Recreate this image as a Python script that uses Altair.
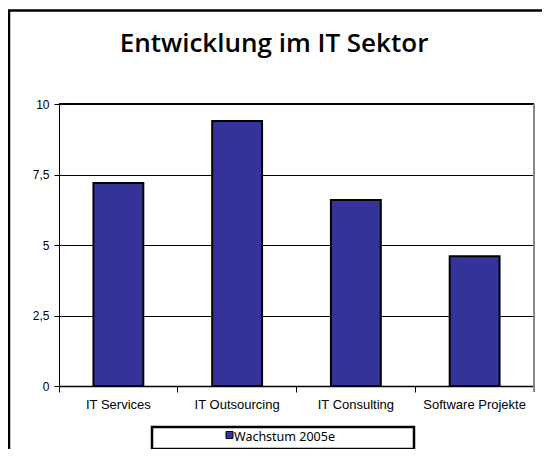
import altair as alt
import pandas as pd

categories = ["IT Services", "IT Outsourcing", "IT Consulting", "Software Projekte"]
values = [7.2, 9.4, 6.6, 4.6]
series_name = ["Wachstum 2005e"]
title_text = ["Entwicklung im IT Sektor"]
y_ticks = [0, 2.5, 5, 7.5, 10]

BAR = "#333399"
W, H = 475, 282

df = pd.DataFrame({"Kategorie": categories, "Wert": values})
one = pd.DataFrame({"k": [0]})

x = alt.X("Kategorie:N", sort=categories,
          scale=alt.Scale(paddingInner=0, paddingOuter=0),
          axis=alt.Axis(title=None, labelAngle=0, bandPosition=0,
                        labelFont="Liberation Sans", labelFontSize=13, labelColor="black",
                        labelPadding=6, tickSize=6, tickColor="black", tickWidth=1,
                        domainColor="black", domainWidth=1.5, labelOverlap=False,
                        labelFlush=False, labelBound=False))
y = alt.Y("Wert:Q", scale=alt.Scale(domain=[0, 10], nice=False),
          axis=alt.Axis(title=None, values=y_ticks,
                        labelExpr="replace(format(datum.value, '~g'), '.', ',')",
                        labelFont="Liberation Sans", labelFontSize=12, labelColor="black",
                        tickSize=5, tickColor="black", labelPadding=5,
                        domainColor="black", domainWidth=1,
                        grid=True, gridColor="black", gridWidth=1))

bars = alt.Chart(df).mark_bar(
    width={"band": 0.42}, fill=BAR, stroke="black", strokeWidth=2
).encode(x=x, y=y)

frame = alt.Chart(one).mark_rect(fill=None, stroke="black", strokeWidth=2.5, clip=False).encode(
    x=alt.value(-50), x2=alt.value(600), y=alt.value(-93.5), y2=alt.value(600))

top_border = alt.Chart(one).mark_rule(color="black", strokeWidth=2).encode(
    x=alt.value(0), x2=alt.value(W), y=alt.value(0))
right_border = alt.Chart(one).mark_rule(color="#888888", strokeWidth=2).encode(
    x=alt.value(W), y=alt.value(0), y2=alt.value(H + 6))

title = alt.Chart(pd.DataFrame({"t": title_text})).mark_text(
    font="Open Sans", fontWeight=600, fontSize=26, color="black",
    align="center", baseline="alphabetic"
).encode(text="t:N", x=alt.value(215), y=alt.value(-52))

leg_box = alt.Chart(one).mark_rect(fill="white", stroke="black", strokeWidth=2.5).encode(
    x=alt.value(93), x2=alt.value(355), y=alt.value(323), y2=alt.value(345))
leg_sym = alt.Chart(pd.DataFrame({"s": series_name})).mark_square(
    size=49, fill=BAR, stroke="black", strokeWidth=1, opacity=1
).encode(x=alt.value(170.5), y=alt.value(331))
leg_txt = alt.Chart(pd.DataFrame({"s": series_name})).mark_text(
    font="Noto Sans", fontSize=12.5, color="black", align="left", baseline="alphabetic"
).encode(text="s:N", x=alt.value(175), y=alt.value(337))

chart = alt.layer(frame, bars, top_border, right_border, title, leg_box, leg_sym, leg_txt).properties(
    width=W, height=H,
    autosize=alt.AutoSizeParams(type="none"),
    padding={"left": 51, "top": 96, "right": 8, "bottom": 63},
).configure_view(stroke=None)

chart.save("out.html", embed_options={"renderer": "svg", "actions": False})
